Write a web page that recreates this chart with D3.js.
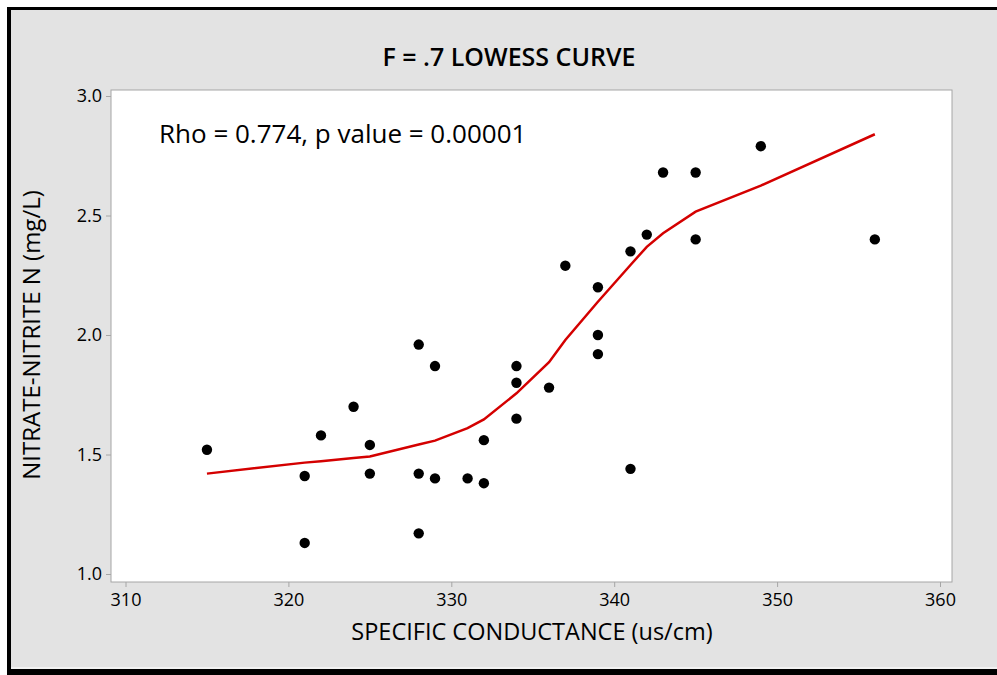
<!DOCTYPE html>
<html>
<head>
<meta charset="utf-8">
<script src="https://cdn.jsdelivr.net/npm/d3@7"></script>
<style>
  body { margin: 0; background: #fff; }
  svg { display: block; font-family: "Open Sans", "Noto Sans", sans-serif; }
</style>
</head>
<body>
<svg id="chart" width="997" height="675"></svg>
<script>
// observed points
const conductance = [315, 321, 321, 322, 324, 325, 325, 328, 328, 328, 329, 329, 331, 332, 332,
    334, 334, 334, 336, 337, 339, 339, 339, 341, 341, 342, 343, 345, 345, 349, 356];
const nitrate = [1.52, 1.41, 1.13, 1.58, 1.70, 1.54, 1.42, 1.96, 1.42, 1.17, 1.87, 1.40, 1.40, 1.56, 1.38,
    1.87, 1.80, 1.65, 1.78, 2.29, 2.20, 2.00, 1.92, 2.35, 1.44, 2.42, 2.68, 2.68, 2.40, 2.79, 2.40];

// lowess fit (F = .7) at each distinct x
const fitX = [315, 321, 322, 324, 325, 328, 329, 331, 332, 334, 336, 337, 339, 341, 342, 343, 345, 349, 356];
const fitY = [1.42, 1.466, 1.472, 1.485, 1.492, 1.542, 1.558, 1.61, 1.647, 1.756, 1.886, 1.979, 2.139, 2.293, 2.369, 2.426, 2.516, 2.625, 2.84];

const xTicks = [310, 320, 330, 340, 350, 360];
const yTicks = [1.0, 1.5, 2.0, 2.5, 3.0];

const svg = d3.select("#chart");

// frame
svg.append("rect").attr("x", 0).attr("y", 0).attr("width", 997).attr("height", 675).attr("fill", "#fff");
svg.append("rect").attr("x", 7).attr("y", 7).attr("width", 995).attr("height", 668).attr("fill", "#000");
svg.append("rect").attr("x", 11).attr("y", 10).attr("width", 990).attr("height", 659).attr("fill", "#f2f2f2");
svg.append("rect").attr("x", 11).attr("y", 10).attr("width", 990).attr("height", 657).attr("fill", "#e3e3e3");

const plot = {left: 111, top: 90, right: 952, bottom: 582};

const x = d3.scaleLinear().domain([310, 360]).range([125.5, 940]);
const y = d3.scaleLinear().domain([1.0, 3.0]).range([574, 96]);

svg.append("rect")
    .attr("x", plot.left).attr("y", plot.top)
    .attr("width", plot.right - plot.left).attr("height", plot.bottom - plot.top)
    .attr("fill", "#fff").attr("stroke", "#a6a6a6").attr("stroke-width", 1);

const xAxis = svg.append("g")
    .attr("transform", `translate(0,${plot.bottom})`)
    .call(d3.axisBottom(x).tickValues(xTicks).tickSize(5).tickPadding(6).tickFormat(d3.format("d")));
const yAxis = svg.append("g")
    .attr("transform", `translate(${plot.left},0)`)
    .call(d3.axisLeft(y).tickValues(yTicks).tickSize(5).tickPadding(4).tickFormat(d3.format(".1f")));

[xAxis, yAxis].forEach(g => {
    g.select(".domain").remove();
    g.selectAll(".tick line").attr("stroke", "#a6a6a6");
    g.selectAll(".tick text").attr("fill", "#000").style("font-size", "18px").style("font-weight", 500)
        .style("font-family", "\"Open Sans\", sans-serif");
});

// lowess curve
const line = d3.line().x((d, i) => x(fitX[i])).y(d => y(d));
svg.append("path")
    .datum(fitY)
    .attr("d", line)
    .attr("fill", "none")
    .attr("stroke", "#d40000")
    .attr("stroke-width", 2.5);

svg.selectAll(".pt")
    .data(conductance)
    .enter()
    .append("circle")
    .attr("class", "pt")
    .attr("cx", d => x(d))
    .attr("cy", (d, i) => y(nitrate[i]))
    .attr("r", 5.2)
    .attr("fill", "#000");

// text
svg.append("text")
    .attr("x", 509).attr("y", 66)
    .attr("text-anchor", "middle")
    .style("font-size", "25px").style("font-weight", 600)
    .text("F = .7 LOWESS CURVE");

svg.append("text")
    .attr("x", 159).attr("y", 143)
    .style("font-size", "26px")
    .text("Rho = 0.774, p value = 0.00001");

svg.append("text")
    .attr("x", 532).attr("y", 640)
    .attr("text-anchor", "middle")
    .style("font-size", "23.5px").style("font-weight", 500)
    .text("SPECIFIC CONDUCTANCE (us/cm)");

svg.append("text")
    .attr("transform", "translate(40,335) rotate(-90)")
    .attr("text-anchor", "middle")
    .style("font-size", "24px").style("font-weight", 500)
    .text("NITRATE-NITRITE N (mg/L)");
</script>
</body>
</html>
